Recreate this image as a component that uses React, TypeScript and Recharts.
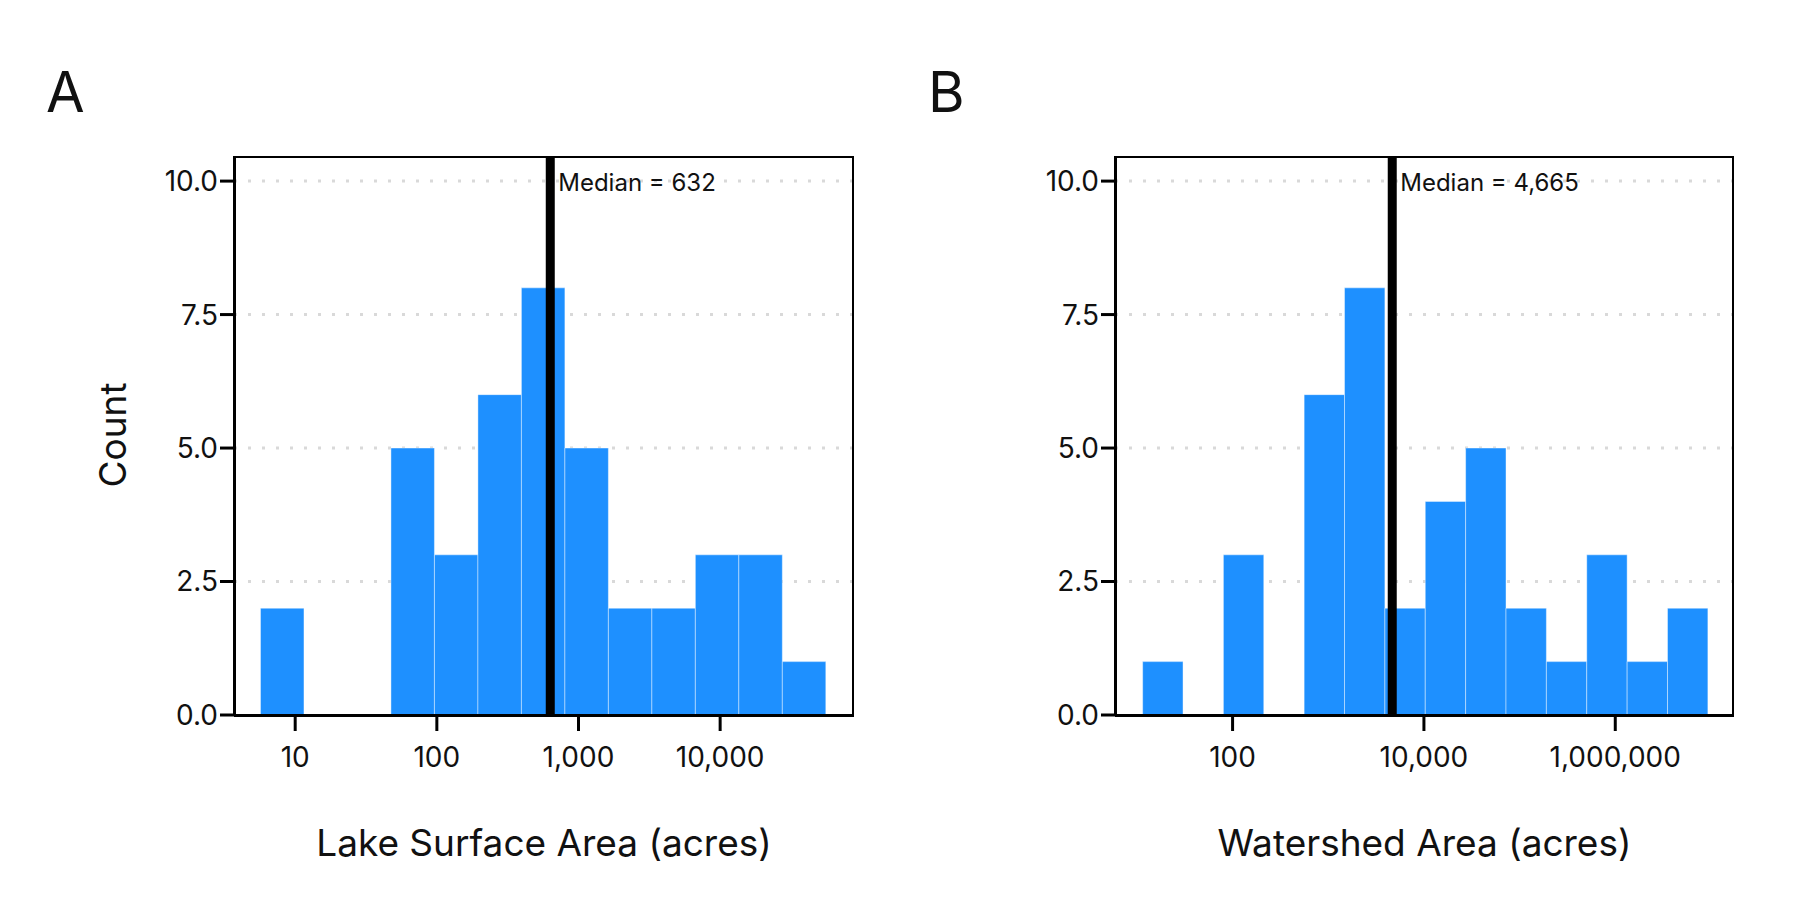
import { ComposedChart, Line, XAxis, YAxis, CartesianGrid, ReferenceArea, ReferenceLine } from 'recharts';

// log10 bin edges and counts
const lakeBinStart = 0.755;
const lakeBinWidth = 0.307;
const lakeCounts = [2, 0, 0, 5, 3, 6, 8, 5, 2, 2, 3, 3, 1];
const lakeMedian = 632;
const lakeTicks = [1, 2, 3, 4];

const shedBinStart = 1.06;
const shedBinWidth = 0.422;
const shedCounts = [1, 0, 3, 0, 6, 8, 2, 4, 5, 2, 1, 3, 1, 2];
const shedMedian = 4665;
const shedTicks = [2, 4, 6];

const yTicks = [0, 2.5, 5, 7.5, 10];

const FONT = 'Inter, "Open Sans", sans-serif';
const BLUE = '#1E90FF';

const fmtPow = (v: number) => Math.round(Math.pow(10, v)).toLocaleString('en-US');

function Histogram({ start, width, counts, median, ticks, domain, title, left, marginLeft, marginRight }: any) {
  const bins = counts.map((c: number, i: number) => ({ x0: start + i * width, x1: start + (i + 1) * width, count: c }));
  const data = bins.map((b: any) => ({ x: (b.x0 + b.x1) / 2, count: b.count }));
  const logMed = Math.log10(median);
  const plotTop = 156;
  const plotBottom = 715;
  return (
    <div style={{ position: 'absolute', left, top: 0, width: 880, height: 900 }}>
      <ComposedChart width={880} height={900} data={data}
        margin={{ top: plotTop, right: marginRight, left: marginLeft, bottom: 900 - plotBottom - 100 }}>
        <CartesianGrid vertical={false} stroke="#d9d9d9" strokeWidth={3} strokeDasharray="3 11" horizontalValues={[2.5, 5, 7.5, 10]} />
        <XAxis dataKey="x" type="number" domain={domain} ticks={ticks} tickFormatter={fmtPow}
          allowDataOverflow height={100} axisLine={{ stroke: '#000', strokeWidth: 2 }}
          tickLine={{ stroke: '#000', strokeWidth: 3 }} tickSize={16}
          tick={{ fill: '#111', fontSize: 28, fontFamily: FONT, dy: 14 }} />
        <YAxis type="number" domain={[0, 10.47]} ticks={yTicks} tickFormatter={(v: number) => v.toFixed(1)}
          allowDataOverflow width={60} axisLine={{ stroke: '#000', strokeWidth: 2 }}
          tickLine={{ stroke: '#000', strokeWidth: 3 }} tickSize={14}
          tick={{ fill: '#111', fontSize: 28, fontFamily: FONT }} />
        {bins.filter((b: any) => b.count > 0).map((b: any, i: number) => (
          <ReferenceArea key={i} x1={b.x0} x2={b.x1} y1={0} y2={b.count} fill={BLUE} fillOpacity={1}
            stroke="#ffffff" strokeWidth={0.6} strokeOpacity={0.7} />
        ))}
        <ReferenceLine x={logMed} stroke="#000" strokeWidth={9}
          label={(p: any) => (
            <text x={p.viewBox.x + 8} y={p.viewBox.y + 35} fontSize={24} fontFamily={FONT} fill="#111">
              Median = {median.toLocaleString('en-US')}
            </text>
          )} />
        <Line dataKey="count" stroke="none" dot={false} activeDot={false} isAnimationActive={false} />
      </ComposedChart>
      <div style={{ position: 'absolute', left: marginLeft + 60, top: plotTop, width: 880 - marginLeft - 60 - marginRight - 4,
        height: plotBottom - plotTop - 2, border: '2px solid #000', pointerEvents: 'none' }} />
      <div style={{ position: 'absolute', left: marginLeft + 60, width: 880 - marginLeft - 60 - marginRight, top: 820,
        textAlign: 'center', fontSize: 37, fontFamily: FONT, color: '#111' }}>{title}</div>
    </div>
  );
}

export default function App() {
  return (
    <div style={{ position: 'relative', width: 1800, height: 900, margin: -8, background: '#fff', fontFamily: FONT }}>
      <Histogram start={lakeBinStart} width={lakeBinWidth} counts={lakeCounts} median={lakeMedian} ticks={lakeTicks}
        domain={[0.568, 4.945]} title="Lake Surface Area (acres)" left={0} marginLeft={174} marginRight={26} />
      <Histogram start={shedBinStart} width={shedBinWidth} counts={shedCounts} median={shedMedian} ticks={shedTicks}
        domain={[0.771, 7.241]} title="Watershed Area (acres)" left={900} marginLeft={155} marginRight={46} />
      <div style={{ position: 'absolute', left: 46, top: 58, fontSize: 56, color: '#111' }}>A</div>
      <div style={{ position: 'absolute', left: 928, top: 58, fontSize: 56, color: '#111' }}>B</div>
      <div style={{ position: 'absolute', left: 112, top: 435, transform: 'translate(-50%, -50%) rotate(-90deg)',
        fontSize: 37, color: '#111', whiteSpace: 'nowrap' }}>Count</div>
    </div>
  );
}
